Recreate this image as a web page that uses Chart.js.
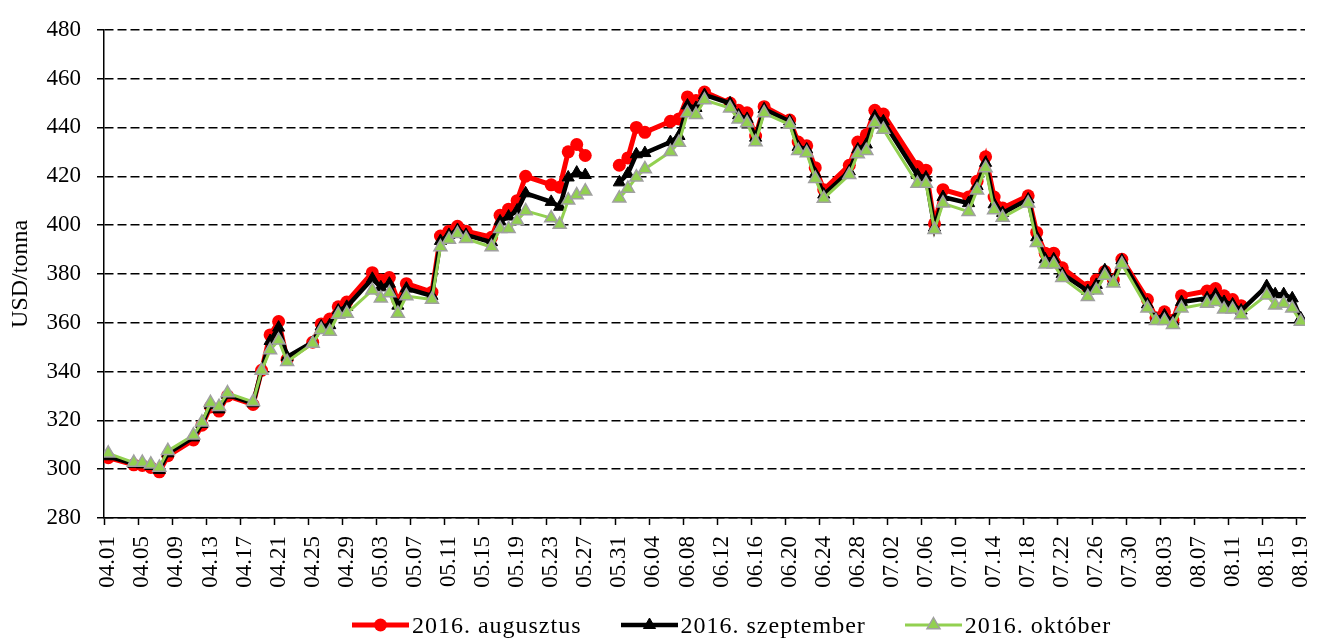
<!DOCTYPE html>
<html lang="hu">
<head>
  <meta charset="UTF-8">
  <title>USD/tonna</title>
  <script src="https://cdn.jsdelivr.net/npm/chart.js@4"></script>
  <style>
    body { margin: 0; background: #fff; }
    #wrap { position: relative; width: 1318px; height: 639px; }
    #legend {
      position: absolute; left: 0; top: 610px; width: 1318px; height: 30px;
      padding-left: 145px; box-sizing: border-box;
      display: flex; justify-content: center; align-items: center; gap: 39px;
      font: 24px "Liberation Serif"; letter-spacing: 1px; color: #000;
    }
    .item { display: flex; align-items: center; white-space: nowrap; }
    .item svg { margin-right: 3px; }
  </style>
</head>
<body>
  <div id="wrap">
    <canvas id="priceChart"></canvas>
    <div id="legend"></div>
  </div>

  <script>
    // trading days (05.30 has no quote -> gap in the lines)
    const dates = [
      '04.01','04.04','04.05','04.06','04.07','04.08','04.11','04.12','04.13','04.14','04.15',
      '04.18','04.19','04.20','04.21','04.22','04.25','04.26','04.27','04.28','04.29',
      '05.02','05.03','05.04','05.05','05.06','05.09','05.10','05.11','05.12','05.13',
      '05.16','05.17','05.18','05.19','05.20','05.23','05.24','05.25','05.26','05.27','05.30','05.31',
      '06.01','06.02','06.03','06.06','06.07','06.08','06.09','06.10','06.13','06.14','06.15','06.16','06.17',
      '06.20','06.21','06.22','06.23','06.24','06.27','06.28','06.29','06.30',
      '07.01','07.05','07.06','07.07','07.08','07.11','07.12','07.13','07.14','07.15',
      '07.18','07.19','07.20','07.21','07.22','07.25','07.26','07.27','07.28','07.29',
      '08.01','08.02','08.03','08.04','08.05','08.08','08.09','08.10','08.11','08.12',
      '08.15','08.16','08.17','08.18','08.19'
    ];

    const augusztus = [
      304.7, 301.8, 301.5, 300.7, 298.9, 305.5, 312, 318, 325.5, 323.8, 330,
      326.5, 340.5, 355, 360.5, 345, 352, 359.5, 361.5, 366.5, 368.5,
      380.5, 377.5, 378.5, 369, 376, 372.5, 395.5, 397.5, 399.5, 397.5,
      395, 404, 406.5, 410, 420, 416.5, 415.5, 430, 433, 428.5, null, 424.5,
      427.5, 440, 438, 442.5, 443.5, 452.5, 451, 454.5, 450, 447, 446, 436.5, 448.5,
      443, 434, 432.5, 423.5, 414.5, 424.5, 434, 437, 447,
      445.5, 424, 422.5, 400.5, 414.5, 411.5, 418, 428, 411.5, 407,
      412, 397, 388.5, 388.5, 382.5, 374.5, 377.5, 381, 377.5, 386,
      369.5, 362, 364.5, 361, 371, 373, 374, 371, 369.5, 367,
      null, null, null, null, null
    ];

    const szeptember = [
      305.3, 302.2, 302, 301.3, 299.7, 306.5, 313, 318.5, 326.3, 324.5, 330.5,
      327, 340.5, 352.5, 358, 346, 352, 358.5, 359, 365, 366.5,
      378, 374.5, 376, 367, 374, 371, 393.5, 396, 398, 396,
      393, 401.5, 403.5, 406, 413, 409.5, 407.5, 419.5, 421.5, 420.5, null, 417.5,
      421, 429, 429.5, 434, 436.5, 449, 448, 453.3, 449.9, 445, 443.5, 435.8, 447.5,
      442.5, 432, 431, 421, 412.5, 422, 431, 433, 444.5,
      442.5, 420.5, 419.5, 399, 411.5, 409, 416, 425.5, 408.5, 405,
      410.5, 395, 386, 386, 380, 373, 375.5, 381.5, 377, 385.5,
      367.5, 361.5, 363, 360.5, 368.5, 370, 371.5, 368.5, 367.5, 365,
      375, 371.7, 371.7, 370, 361.8
    ];

    const oktober = [
      306.5, 302.7, 302.7, 302, 300.7, 307.5, 313.9, 319.2, 327.2, 325.6, 331.2,
      327.6, 340.4, 348.8, 352.8, 344, 351.5, 357.1, 356.4, 363.4, 363.8,
      373.3, 370, 372.2, 363.8, 370.9, 369.5, 391, 394.1, 396.4, 394.4,
      391, 398.5, 398.5, 401.8, 405.8, 402.9, 400.2, 410.2, 412.3, 413.9, null, 411,
      415, 419.6, 423, 430, 433.8, 445.9, 445.2, 451.2, 447.9, 443.4, 441.8, 434, 445.9,
      441.2, 430.4, 429.5, 419, 410.9, 420.6, 429.1, 430.4, 441.8,
      439.2, 417, 417, 398.1, 408.9, 405.5, 414.3, 423.4, 406.2, 403.1,
      408.9, 392.8, 384, 384, 378.4, 370.6, 373.3, 379.3, 376.2, 384,
      365.9, 360.8, 360.8, 359.2, 365.9, 367.9, 368.6, 365.5, 365.5, 363.2,
      371.3, 367.2, 367.9, 365.9, 360.5
    ];

    const seriesLabels = ['2016. augusztus', '2016. szeptember', '2016. október'];
    const yMin = 280, yMax = 480, yStep = 20;
    const labelEvery = 4; // days between x labels

    const DAY = 86400000;
    const start = Date.UTC(2016, 3, 1);

    function dayIndex(s) {
      const [m, d] = s.split('.').map(Number);
      return Math.round((Date.UTC(2016, m - 1, d) - start) / DAY);
    }

    function dayLabel(i) {
      const dt = new Date(start + i * DAY);
      return String(dt.getUTCMonth() + 1).padStart(2, '0') + '.' + String(dt.getUTCDate()).padStart(2, '0');
    }

    function toPoints(vals) {
      return dates.map((d, i) => ({ x: dayIndex(d), y: vals[i] }));
    }

    const lastDay = dayIndex(dates[dates.length - 1]);
    const font = { family: 'Liberation Serif', size: 23 };

    // legend as html below the canvas (line + marker + text)
    function markerSvg(ds) {
      const w = 57, h = 20, cx = w / 2, cy = h / 2;
      let mark;
      if (ds.pointStyle === 'triangle') {
        const r = ds.pointRadius;
        const pts = [[cx, cy - r], [cx + r * 0.866, cy + r / 2], [cx - r * 0.866, cy + r / 2]];
        mark = '<polygon points="' + pts.map(p => p.join(',')).join(' ') + '" fill="' + ds.pointBackgroundColor +
          '" stroke="' + ds.pointBorderColor + '" stroke-width="' + ds.pointBorderWidth + '"/>';
      } else {
        mark = '<circle cx="' + cx + '" cy="' + cy + '" r="' + ds.pointRadius + '" fill="' + ds.pointBackgroundColor + '"/>';
      }
      return '<svg width="' + w + '" height="' + h + '"><line x1="0" y1="' + cy + '" x2="' + w + '" y2="' + cy +
        '" stroke="' + ds.borderColor + '" stroke-width="' + ds.borderWidth + '"/>' + mark + '</svg>';
    }

    const htmlLegend = {
      id: 'htmlLegend',
      afterUpdate(chart) {
        const box = document.getElementById('legend');
        box.innerHTML = '';
        chart.data.datasets.forEach(ds => {
          const item = document.createElement('div');
          item.className = 'item';
          item.innerHTML = markerSvg(ds) + '<span>' + ds.label + '</span>';
          box.appendChild(item);
        });
      }
    };

    const ctx = document.getElementById('priceChart').getContext('2d');
    const chart = new Chart(ctx, {
      type: 'line',
      data: {
        datasets: [
          {
            label: seriesLabels[0],
            data: toPoints(augusztus),
            borderColor: '#FF0000',
            borderWidth: 5,
            pointStyle: 'circle',
            pointRadius: 6.5,
            pointBackgroundColor: '#FF0000',
            pointBorderColor: '#FF0000',
            pointBorderWidth: 0,
            order: 3
          },
          {
            label: seriesLabels[1],
            data: toPoints(szeptember),
            borderColor: '#000000',
            borderWidth: 4.5,
            pointStyle: 'triangle',
            pointRadius: 7,
            pointBackgroundColor: '#000000',
            pointBorderColor: '#000000',
            pointBorderWidth: 1,
            order: 2
          },
          {
            label: seriesLabels[2],
            data: toPoints(oktober),
            borderColor: '#92D050',
            borderWidth: 3,
            pointStyle: 'triangle',
            pointRadius: 7.5,
            pointBackgroundColor: '#92D050',
            pointBorderColor: '#A0A0A0',
            pointBorderWidth: 1.5,
            order: 1
          }
        ]
      },
      options: {
        responsive: true,
        maintainAspectRatio: false,
        animation: false,
        spanGaps: false,
        layout: { padding: { left: 0, right: 13, top: 22, bottom: 0 } },
        plugins: {
          legend: { display: false },
          tooltip: { enabled: false }
        },
        scales: {
          x: {
            type: 'linear',
            min: -0.5,
            max: lastDay + 0.5,
            afterBuildTicks: scale => {
              scale.ticks = [];
              for (let d = 0; d <= lastDay; d += labelEvery) scale.ticks.push({ value: d - 0.5 });
            },
            afterFit: scale => {
              scale.height = 121;
              scale.paddingLeft = 0;
              scale.paddingRight = 0;
            },
            ticks: {
              autoSkip: false,
              minRotation: 90,
              maxRotation: 90,
              labelOffset: 4.26,
              padding: 11,
              color: '#000',
              font: font,
              callback: v => dayLabel(Math.round(v + 0.5))
            },
            grid: { drawOnChartArea: false, color: '#000', tickLength: 7, tickWidth: 1.5 },
            border: { color: '#000', width: 1.5 }
          },
          y: {
            min: yMin,
            max: yMax,
            afterFit: scale => { scale.width = 104; },
            ticks: { stepSize: yStep, padding: 16, color: '#000', font: font },
            grid: { color: '#000', lineWidth: 1.5, tickLength: 7, tickWidth: 1.5, tickBorderDash: [1, 0] },
            border: { color: '#000', width: 1.5, dash: [9, 4] },
            title: {
              display: true,
              text: 'USD/tonna',
              color: '#000',
              font: { family: 'Liberation Serif', size: 24 },
              padding: { top: 6, bottom: 0 }
            }
          }
        }
      },
      plugins: [htmlLegend]
    });
  </script>
</body>
</html>
